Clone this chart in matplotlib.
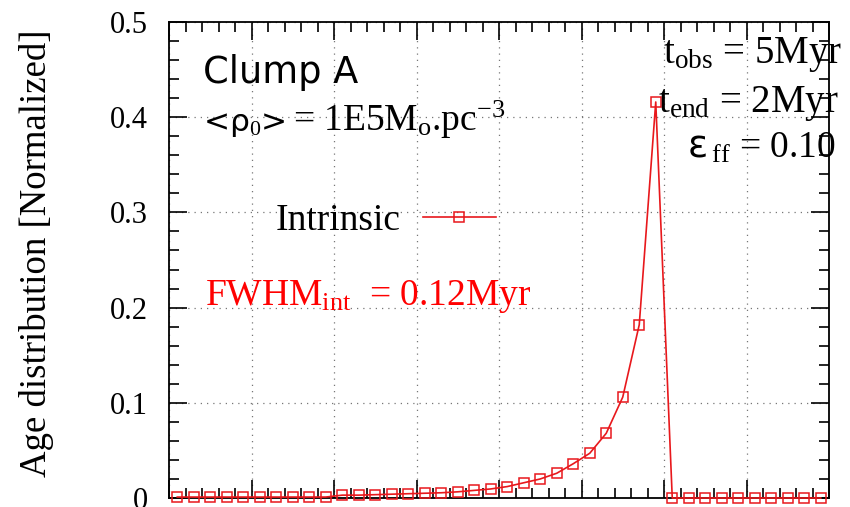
import matplotlib
matplotlib.use('Agg')
import matplotlib.pyplot as plt
from matplotlib.ticker import MultipleLocator

# bin centres of the age histogram (40 bins)
age = [0.05, 0.15, 0.25, 0.35, 0.45, 0.55, 0.65, 0.75, 0.85, 0.95,
       1.05, 1.15, 1.25, 1.35, 1.45, 1.55, 1.65, 1.75, 1.85, 1.95,
       2.05, 2.15, 2.25, 2.35, 2.45, 2.55, 2.65, 2.75, 2.85, 2.95,
       3.05, 3.15, 3.25, 3.35, 3.45, 3.55, 3.65, 3.75, 3.85, 3.95]
intrinsic = [0.001, 0.001, 0.001, 0.001, 0.001, 0.001, 0.001, 0.001, 0.001, 0.001,
             0.003, 0.003, 0.0035, 0.004, 0.0045, 0.005, 0.0055, 0.0065, 0.008, 0.0095,
             0.012, 0.016, 0.020, 0.026, 0.036, 0.047, 0.068, 0.106, 0.182, 0.416,
             0, 0, 0, 0, 0, 0, 0, 0, 0, 0]
y_ticks = [0, 0.1, 0.2, 0.3, 0.4, 0.5]
y_ticklabels = ['0', '0.1', '0.2', '0.3', '0.4', '0.5']

plt.rcParams['mathtext.fontset'] = 'custom'
plt.rcParams['mathtext.rm'] = 'Liberation Serif'
plt.rcParams['mathtext.it'] = 'Liberation Serif:italic'
plt.rcParams['mathtext.default'] = 'rm'

W, H = 850, 507
fig = plt.figure(figsize=(W / 100, H / 100), dpi=100)
ax = fig.add_axes([169 / W, 1 - 498 / H, 660 / W, 476 / H])

red = '#e8181c'
ax.plot(age, intrinsic, color=red, lw=1.2, marker='s', ms=7.5, mfc='none',
        mec=red, mew=1.1, label='Intrinsic', clip_on=False, zorder=3)

ax.set_xlim(0, 4)
ax.set_ylim(0, 0.5)
ax.xaxis.set_major_locator(MultipleLocator(0.5))
ax.xaxis.set_minor_locator(MultipleLocator(0.1))
ax.set_yticks(y_ticks)
ax.set_yticklabels(y_ticklabels)
ax.yaxis.set_minor_locator(MultipleLocator(0.02))
ax.tick_params(which='both', direction='in', top=True, right=True, width=1.2,
               labelbottom=False, pad=15)
ax.tick_params(which='major', length=13)
ax.tick_params(which='minor', length=7)
for lab in ax.get_yticklabels():
    lab.set_fontfamily('Liberation Serif')
    lab.set_fontsize(22)
for s in ax.spines.values():
    s.set_linewidth(1.3)
ax.grid(True, which='major', color='#777777', lw=0.9, ls=(0, (1, 4)))

fig.text(37 / W, 1 - 253 / H, 'Age distribution [Normalized]', rotation=90,
         ha='center', va='center', family='Liberation Serif', fontsize=26.5)

def px(x, y):
    return x / W, 1 - y / H

fig.text(*px(203, 83), 'Clump A', family='DejaVu Sans', fontsize=26.5, va='baseline')
fig.text(*px(203, 131), r'<ρ$_0$>', family='DejaVu Sans', fontsize=22.5, va='baseline')
fig.text(*px(293, 131), r'= 1E5M$_\mathrm{o}$.pc$^\mathrm{-3}$',
         family='Liberation Serif', fontsize=27, va='baseline')
fig.text(*px(663, 63), r't$_\mathrm{obs}$ = 5Myr', family='Liberation Serif',
         fontsize=28, va='baseline')
fig.text(*px(658, 112), r't$_\mathrm{end}$ = 2Myr', family='Liberation Serif',
         fontsize=28, va='baseline')
fig.text(*px(688, 158), 'ε', family='DejaVu Sans', fontsize=27, va='baseline')
fig.text(*px(711, 158), r'$_\mathrm{ff}$ = 0.10', family='Liberation Serif',
         fontsize=27, va='baseline')
fig.text(*px(205, 305), r'FWHM$_\mathrm{int}$  = 0.12Myr', family='Liberation Serif',
         fontsize=27, va='baseline', color='#ff0000')

ax.legend(loc='center right', bbox_to_anchor=px(496, 221), bbox_transform=fig.transFigure,
          markerfirst=False, frameon=False, borderpad=0, borderaxespad=0,
          handlelength=1.95, handletextpad=0.6,
          prop={'family': 'Liberation Serif', 'size': 27})

fig.savefig('out.png', dpi=100)
